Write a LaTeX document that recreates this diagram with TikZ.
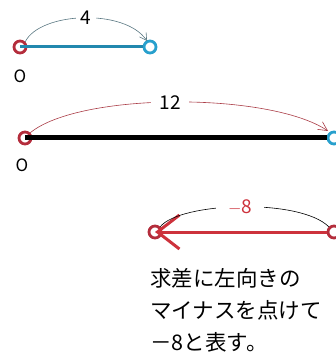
\documentclass[tikz,border=0pt]{standalone}
\usepackage{fontspec}
\newfontfamily\jp{Noto Sans CJK JP}
\usetikzlibrary{arrows.meta}
\definecolor{cred}{RGB}{180,45,60}
\definecolor{cblue}{RGB}{40,160,205}
\definecolor{carrow}{RGB}{205,50,60}
\definecolor{carc}{RGB}{90,120,130}
\definecolor{carcred}{RGB}{170,60,70}
\begin{document}
\begin{tikzpicture}[x=1pt,y=-1pt,
  ring/.style={circle,draw=#1,line width=2.8pt,minimum size=12pt,inner sep=0pt},
  lbl/.style={font=\jp\fontsize{19}{19}\selectfont,fill=white,inner ysep=3pt,inner xsep=8pt},
  olbl/.style={font=\jp\fontsize{17}{17}\selectfont},
  arc/.style={line width=0.6pt}]
\useasboundingbox (0,0) rectangle (335,363);
% row 1
\node[ring=cred] (a0) at (20,47) {};
\node[ring=cblue] (a4) at (150,47) {};
\draw[cblue!85!black,line width=3pt] (a0.center) -- (a4);
\node[olbl] (oa) at (20,76) {O};
\coordinate (a4t) at (147,41);
\draw[arc,carc,-{Straight Barb[length=7pt,width=8pt]}] (a0.north east) .. controls (40,12) and (125,8) .. (a4t);
\node[lbl,inner xsep=5pt] (l4) at (86,18) {4};
% row 2
\node[ring=cred] (b0) at (25,138) {};
\node[ring=cblue] (b12) at (334,138) {};
\draw[black,line width=5pt] (b0.center) -- (b12.west);
\node[olbl] (ob) at (22,165) {O};
\coordinate (b12t) at (328,131);
\draw[arc,carcred,-{Straight Barb[length=9pt,width=9pt]}] (b0.north east) .. controls (80,92) and (270,92) .. (b12t);
\node[lbl] (l12) at (170,103) {12};
% row 3
\node[ring=cred] (c0) at (155,232) {};
\node[ring=cred] (c8) at (334,232) {};
\draw[carrow,line width=3pt,-{Straight Barb[length=22pt,width=34pt,line width=3pt]}] (c8.west) -- (c0.center);
\draw[arc,black] (c0.north east) .. controls (180,202) and (300,198) .. (c8.north west);
\node[lbl,text=carrow,inner xsep=12pt] (l8) at (240,207) {$-$8};
% text
\node[font=\jp\fontsize{21.5}{32}\selectfont,anchor=north west,align=left,inner sep=0pt] (t) at (150,268)
  {求差に左向きの\\マイナスを点けて\\－8と表す。};
\end{tikzpicture}
\end{document}
